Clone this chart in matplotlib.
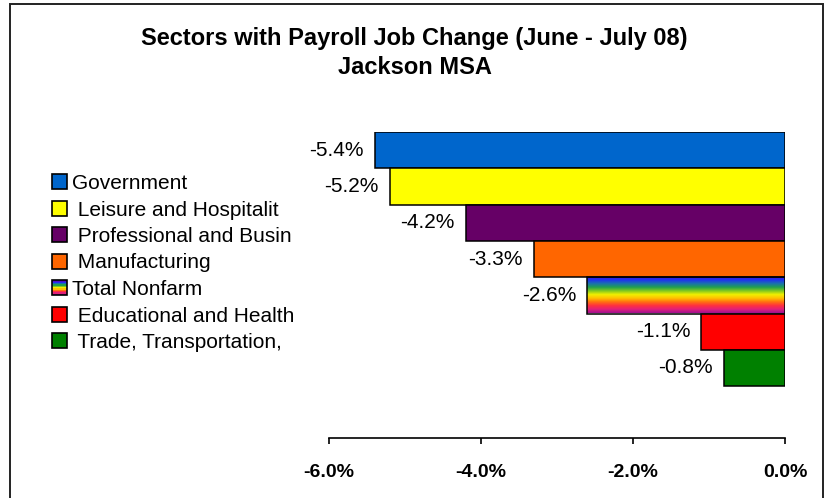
import matplotlib
matplotlib.use('Agg')
import matplotlib.pyplot as plt
import numpy as np
from matplotlib.patches import Patch, Rectangle
from matplotlib.colors import LinearSegmentedColormap
from matplotlib.legend_handler import HandlerBase

plt.rcParams['font.family'] = ['Liberation Sans', 'DejaVu Sans']

# ---- data ----
sectors = ['Government', ' Leisure and Hospitalit', ' Professional and Busin',
           ' Manufacturing', 'Total Nonfarm', ' Educational and Health',
           ' Trade, Transportation,']
changes = [-5.4, -5.2, -4.2, -3.3, -2.6, -1.1, -0.8]
colors = ['#0066CC', '#FFFF00', '#660066', '#FF6600', None, '#FF0000', '#008000']
xticks = [-6, -4, -2, 0]
rainbow = ['#4a10c8', '#2030f0', '#1a70b0', '#20a050', '#80c820', '#f0f000',
           '#ffc000', '#ff7010', '#ff3040', '#e0207a', '#a01090']
title_line1 = 'Sectors with Payroll Job Change (June - July 08)'
title_line2 = 'Jackson MSA'

rain_cmap = LinearSegmentedColormap.from_list('rain', rainbow)


class RainbowHandler(HandlerBase):
    def create_artists(self, legend, orig_handle, xdescent, ydescent,
                       width, height, fontsize, trans):
        n = len(rainbow)
        arts = []
        for i, c in enumerate(rainbow):
            y0 = -ydescent + height * (1 - (i + 1) / n)
            arts.append(Rectangle((-xdescent, y0), width, height / n,
                                  facecolor=c, edgecolor='none', transform=trans))
        arts.append(Rectangle((-xdescent, -ydescent), width, height,
                              facecolor='none', edgecolor='black', lw=1.2,
                              transform=trans))
        return arts


fig = plt.figure(figsize=(8.29, 4.98), dpi=100)
ax = fig.add_axes([329 / 829, 60 / 498, 456 / 829, 306 / 498])

y = np.arange(len(changes))
bars = ax.barh(y, changes, height=1.0,
               color=[c if c else 'none' for c in colors],
               edgecolor='black', linewidth=1.1, zorder=2)

# rainbow fill for Total Nonfarm
r = bars[4]
grad = np.linspace(0, 1, 256).reshape(-1, 1)
ax.imshow(grad, cmap=rain_cmap, origin='upper', aspect='auto',
          extent=[r.get_x() + r.get_width(), r.get_x(),
                  r.get_y() + r.get_height(), r.get_y()], zorder=1.5)

ax.set_xlim(-6, 0)
ax.set_ylim(-0.5 + 306 / 36.3, -0.5)

ax.bar_label(bars, labels=[f'{v:.1f}%' for v in changes], padding=8,
             fontsize=15)

ax.set_xticks(xticks)
ax.set_xticklabels([f'{t:.1f}%' for t in xticks], fontweight='bold', fontsize=14)
ax.set_yticks([])
ax.tick_params(axis='x', direction='out', length=4, width=1.2, pad=15)
for s in ['left', 'right', 'top']:
    ax.spines[s].set_visible(False)
ax.spines['bottom'].set_linewidth(1.2)

handles = []
hmap = {}
for c, lab in zip(colors, sectors):
    if c is None:
        h = Patch(facecolor='white', edgecolor='black', label=lab)
        hmap[h] = RainbowHandler()
    else:
        h = Patch(facecolor=c, edgecolor='black', lw=1.2, label=lab)
    handles.append(h)

ax.legend(handles=handles, handler_map=hmap, loc='upper left',
          bbox_to_anchor=(52 / 829, 1 - 174 / 498), bbox_transform=fig.transFigure,
          frameon=False, fontsize=15, handlelength=0.72, handleheight=0.72,
          handletextpad=0.25, labelspacing=0.36, borderpad=0, borderaxespad=0)

fig.text(0.5, 1 - 38 / 498, title_line1, ha='center', va='center',
         fontsize=17, fontweight='bold')
fig.text(0.5, 1 - 67 / 498, title_line2, ha='center', va='center',
         fontsize=17, fontweight='bold')

fig.patches.append(Rectangle((10 / 829, -0.02), 813 / 829, 0.02 + 1 - 4 / 498,
                             transform=fig.transFigure, fill=False,
                             edgecolor='#222222', lw=1.4))

fig.savefig('out.png', dpi=100)
